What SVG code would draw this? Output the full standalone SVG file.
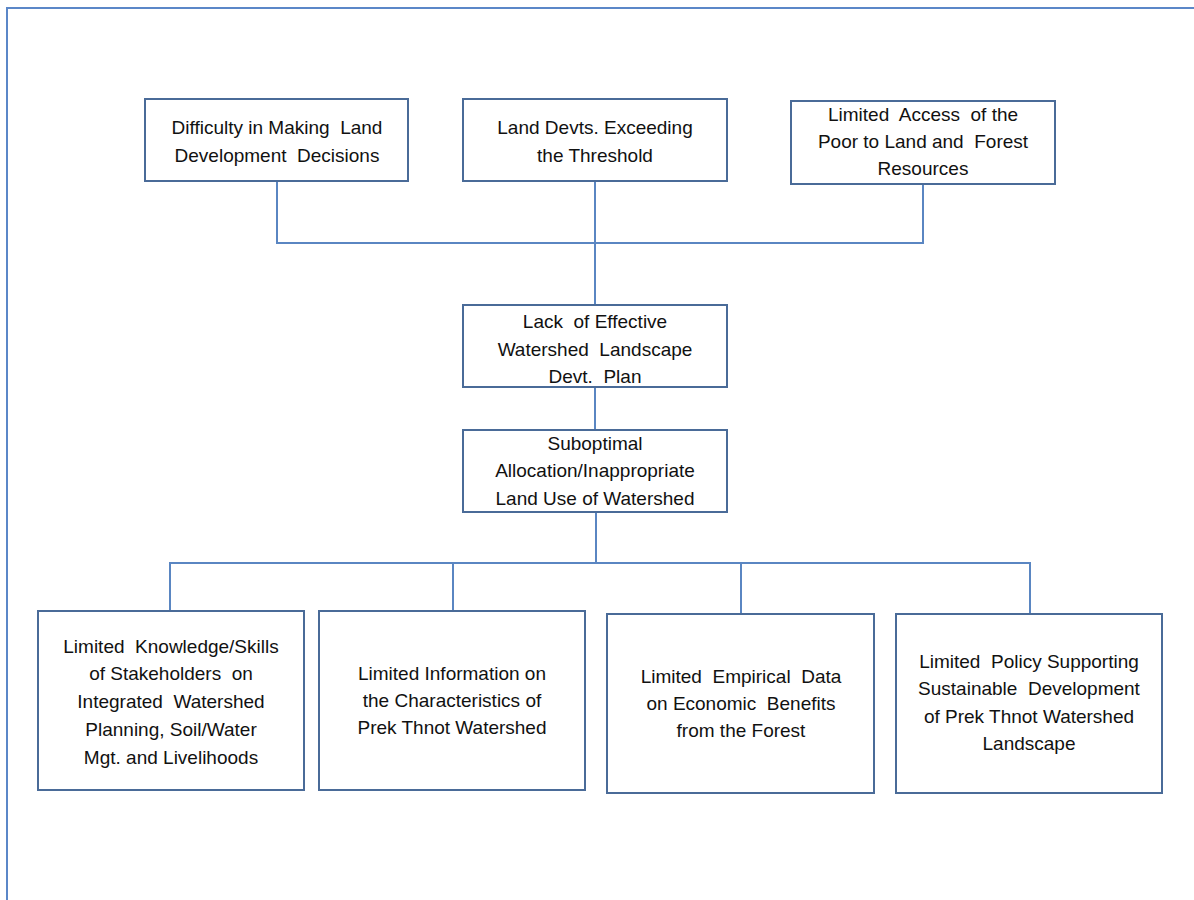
<svg xmlns="http://www.w3.org/2000/svg" width="1194" height="900" viewBox="0 0 1194 900">
<style>
.box{fill:#ffffff;stroke:#4a6b98;stroke-width:2}
.conn{fill:none;stroke:#5a86c2;stroke-width:2}
.frame{fill:none;stroke:#5b87c8;stroke-width:2}
text{font-family:"Liberation Sans",Arial,sans-serif;font-size:19px;fill:#111111;text-anchor:middle;white-space:pre}
</style>
<rect width="1194" height="900" fill="#ffffff"/>
<path class="frame" d="M7,900 V8 H1194"/>
<g id="connectors">
<path class="conn" d="M277,181 V243 H923 V184"/>
<path class="conn" d="M595,181 V305"/>
<path class="conn" d="M595,387 V430"/>
<path class="conn" d="M596,512 V563"/>
<path class="conn" d="M170,611 V563 H1030 V614"/>
<path class="conn" d="M453,563 V611"/>
<path class="conn" d="M741,563 V614"/>
</g>
<g id="n1"><rect class="box" x="145" y="99" width="263" height="82"/>
<text x="277" y="134">Difficulty in Making  Land</text>
<text x="277" y="162">Development  Decisions</text></g>
<g id="n2"><rect class="box" x="463" y="99" width="264" height="82"/>
<text x="595" y="134">Land Devts. Exceeding</text>
<text x="595" y="162">the Threshold</text></g>
<g id="n3"><rect class="box" x="791" y="101" width="264" height="83"/>
<text x="923" y="121">Limited  Access  of the</text>
<text x="923" y="148">Poor to Land and  Forest</text>
<text x="923" y="175">Resources</text></g>
<g id="n4"><rect class="box" x="463" y="305" width="264" height="82"/>
<text x="595" y="328">Lack  of Effective</text>
<text x="595" y="356">Watershed  Landscape</text>
<text x="595" y="383">Devt.  Plan</text></g>
<g id="n5"><rect class="box" x="463" y="430" width="264" height="82"/>
<text x="595" y="450">Suboptimal</text>
<text x="595" y="477">Allocation/Inappropriate</text>
<text x="595" y="505">Land Use of Watershed</text></g>
<g id="n6"><rect class="box" x="38" y="611" width="266" height="179"/>
<text x="171" y="653">Limited  Knowledge/Skills</text>
<text x="171" y="680">of Stakeholders  on</text>
<text x="171" y="708">Integrated  Watershed</text>
<text x="171" y="736">Planning, Soil/Water</text>
<text x="171" y="764">Mgt. and Livelihoods</text></g>
<g id="n7"><rect class="box" x="319" y="611" width="266" height="179"/>
<text x="452" y="680">Limited Information on</text>
<text x="452" y="707">the Characteristics of</text>
<text x="452" y="734">Prek Thnot Watershed</text></g>
<g id="n8"><rect class="box" x="607" y="614" width="267" height="179"/>
<text x="741" y="683">Limited  Empirical  Data</text>
<text x="741" y="710">on Economic  Benefits</text>
<text x="741" y="737">from the Forest</text></g>
<g id="n9"><rect class="box" x="896" y="614" width="266" height="179"/>
<text x="1029" y="668">Limited  Policy Supporting</text>
<text x="1029" y="695">Sustainable  Development</text>
<text x="1029" y="723">of Prek Thnot Watershed</text>
<text x="1029" y="750">Landscape</text></g>
</svg>
